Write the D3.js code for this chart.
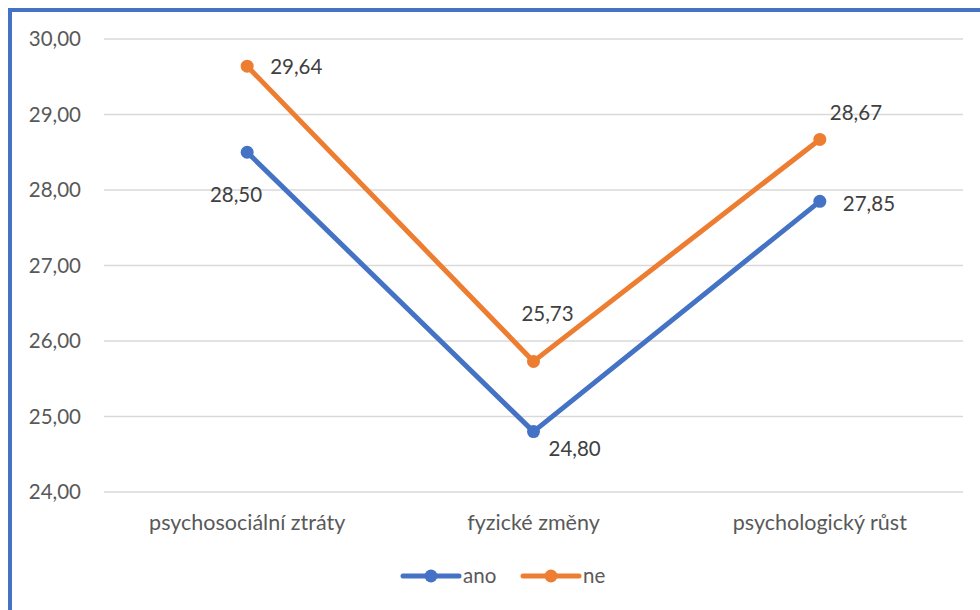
<!DOCTYPE html>
<html>
<head>
<meta charset="utf-8">
<script src="https://cdn.jsdelivr.net/npm/d3@7"></script>
<style>
  html, body { margin: 0; padding: 0; background: #fff; }
  svg { display: block; font-family: Lato, "Open Sans", sans-serif; }
</style>
</head>
<body>
<svg id="chart" width="980" height="610"></svg>
<script>
// Chart data
const categories = ["psychosociální ztráty", "fyzické změny", "psychologický růst"];
const seriesNames = ["ano", "ne"];
const anoValues = [28.50, 24.80, 27.85];
const neValues = [29.64, 25.73, 28.67];
const yTicks = [24, 25, 26, 27, 28, 29, 30];

const colors = { ano: "#4472C4", ne: "#ED7D31" };

// Where each value label sits relative to its point [dx, dy, anchor]
const labelPlacement = {
  ano: [[15, 43, "end"], [15, 17, "start"], [23, 2, "start"]],
  ne:  [[23, 1, "start"], [14, -48, "middle"], [10, -27, "start"]]
};

const fmt = v => v.toFixed(2).replace(".", ",");

const svg = d3.select("#chart");
const W = 980, H = 610;

// Outer chart frame
svg.append("rect")
  .attr("x", 10).attr("y", 10)
  .attr("width", W + 20).attr("height", H + 20)
  .attr("fill", "none")
  .attr("stroke", "#4472C4")
  .attr("stroke-width", 4);

const plot = { left: 104, right: 963, top: 39, bottom: 492 };

const x = d3.scaleBand()
  .domain(categories)
  .range([plot.left, plot.right]);

const y = d3.scaleLinear()
  .domain([24, 30])
  .range([plot.bottom, plot.top]);

const cx = c => x(c) + x.bandwidth() / 2;

// Horizontal gridlines
svg.append("g")
  .selectAll("line")
  .data(yTicks)
  .join("line")
  .attr("x1", plot.left).attr("x2", plot.right)
  .attr("y1", d => y(d)).attr("y2", d => y(d))
  .attr("stroke", "#D9D9D9")
  .attr("stroke-width", 1.3);

// Y axis labels
const yAxis = d3.axisLeft(y).tickValues(yTicks).tickFormat(fmt).tickSize(0).tickPadding(0);
const yg = svg.append("g")
  .attr("transform", `translate(81,0)`)
  .call(yAxis);
yg.select(".domain").remove();
yg.selectAll("text")
  .attr("fill", "#595959")
  .style("font-size", "20.5px")
  .style("font-family", "Lato, 'Open Sans', sans-serif");

// X axis labels
const xAxis = d3.axisBottom(x).tickSize(0).tickPadding(0);
const xg = svg.append("g")
  .attr("transform", `translate(0,${plot.bottom})`)
  .call(xAxis);
xg.select(".domain").remove();
xg.selectAll("text")
  .attr("dy", null)
  .attr("y", 38)
  .attr("fill", "#595959")
  .style("font-size", "21.5px")
  .style("font-family", "Lato, 'Open Sans', sans-serif");

const series = [
  { name: "ano", values: anoValues },
  { name: "ne", values: neValues }
];

const line = d3.line()
  .x((d, i) => cx(categories[i]))
  .y(d => y(d));

series.forEach(s => {
  svg.append("path")
    .datum(s.values)
    .attr("d", line)
    .attr("fill", "none")
    .attr("stroke", colors[s.name])
    .attr("stroke-width", 5)
    .attr("stroke-linejoin", "round")
    .attr("stroke-linecap", "round");

  svg.append("g")
    .selectAll("circle")
    .data(s.values)
    .join("circle")
    .attr("cx", (d, i) => cx(categories[i]))
    .attr("cy", d => y(d))
    .attr("r", 6.5)
    .attr("fill", colors[s.name]);

  svg.append("g")
    .selectAll("text")
    .data(s.values)
    .join("text")
    .attr("x", (d, i) => cx(categories[i]) + labelPlacement[s.name][i][0])
    .attr("y", (d, i) => y(d) + labelPlacement[s.name][i][1])
    .attr("dy", "0.35em")
    .attr("text-anchor", (d, i) => labelPlacement[s.name][i][2])
    .attr("fill", "#404040")
    .style("font-size", "20.5px")
    .text(fmt);
});

// Legend
const legendItems = [
  { name: "ano", x: 403 },
  { name: "ne", x: 523 }
];
const legendY = 576;
const lg = svg.append("g");
legendItems.forEach(it => {
  lg.append("line")
    .attr("x1", it.x).attr("x2", it.x + 56)
    .attr("y1", legendY).attr("y2", legendY)
    .attr("stroke", colors[it.name])
    .attr("stroke-width", 5)
    .attr("stroke-linecap", "round");
  lg.append("circle")
    .attr("cx", it.x + 28).attr("cy", legendY)
    .attr("r", 6.5)
    .attr("fill", colors[it.name]);
  lg.append("text")
    .attr("x", it.x + 60).attr("y", legendY)
    .attr("dy", "0.35em")
    .attr("fill", "#595959")
    .style("font-size", "20.5px")
    .text(it.name);
});
</script>
</body>
</html>
